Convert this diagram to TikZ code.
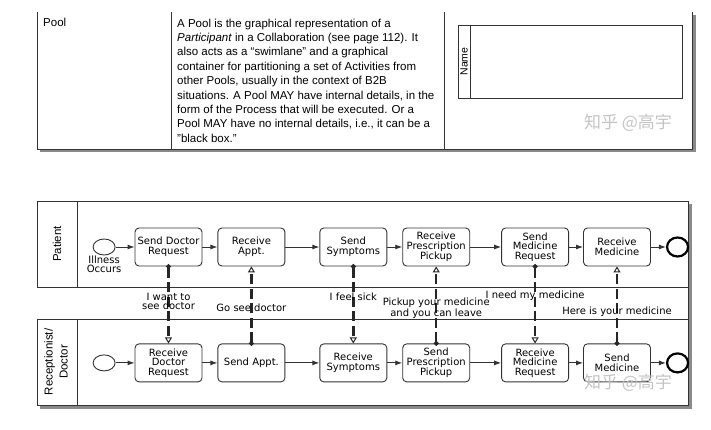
\documentclass[tikz,border=0pt]{standalone}
\usepackage{fontspec}
\setmainfont{Liberation Sans}
\newfontfamily\taskfont{DejaVu Sans}
\newfontfamily\cjkfont{Noto Sans CJK SC}
\usetikzlibrary{arrows.meta,positioning,shapes.geometric}
\definecolor{cline}{HTML}{333333}
\definecolor{cshadow}{HTML}{8A8A8A}
\definecolor{cwmark}{HTML}{C4C4C4}
\tikzset{
  tfont/.style={font=\taskfont\fontsize{10}{9.6}\selectfont},
  task/.style={draw=cline, rounded corners=4pt, minimum width=67pt,
               minimum height=38pt, align=center, inner sep=1pt,
               line width=0.9pt, tfont},
  startev/.style={draw=cline, ellipse, minimum width=22pt, minimum height=16pt,
                  inner sep=0pt, line width=0.9pt},
  endev/.style={draw=black, ellipse, minimum width=21pt, minimum height=19pt,
                inner sep=0pt, line width=2.2pt},
  seq/.style={-{Latex[length=7pt,width=5pt]}, line width=0.9pt, draw=cline},
  msg/.style={{Circle[length=4.5pt]}-{Triangle[open,length=6pt,width=7pt,line width=1pt]},
              line width=2.4pt, dash pattern=on 10pt off 4.5pt, draw=black!85,
              shorten <=-2.2pt},
  msglbl/.style={tfont, align=center, inner sep=0pt},
  frame/.style={draw=cline, line width=0.9pt},
  shade/.style={draw=cshadow, line width=2.5pt},
  lanelbl/.style={rotate=90, align=center, font=\fontsize{11.5}{15}\selectfont},
  wmark/.style={text=cwmark, font=\cjkfont\fontsize{17}{17}\selectfont},
}
\begin{document}
\begin{tikzpicture}[x=1pt, y=-1pt]
  \useasboundingbox (0,0) rectangle (711,430);
  % table row: Pool
  \draw[shade] (40,151) -- (694.5,151) -- (694.5,15);
  \draw[frame] (37,12) -- (37,149) -- (692,149) -- (692,12);
  \draw[frame] (171,12) -- (171,149);
  \draw[frame] (444,12) -- (444,149);
  \node[anchor=base west, inner sep=0pt, font=\fontsize{11.5}{14.4}\selectfont]
    (pooltxt) at (43,27) {Pool};
  \node[anchor=north west, align=left, inner sep=0pt,
        font=\fontsize{11.5}{14.4}\selectfont] (desc) at (177,18.5)
    {A Pool is the graphical representation of a\\
     \textit{Participant} in a Collaboration (see page 112). It\\
     also acts as a “swimlane” and a graphical\\
     container for partitioning a set of Activities from\\
     other Pools, usually in the context of B2B\\
     situations. A Pool MAY have internal details, in the\\
     form of the Process that will be executed. Or a\\
     Pool MAY have no internal details, i.e., it can be a\\
     "black box."};
  \draw[frame] (458,25) rectangle (682,98);
  \draw[frame] (470,25) -- (470,98);
  \node[rotate=90, font=\fontsize{10.5}{10.5}\selectfont] (nm) at (464,61.5) {Name};
  \node[wmark] (w1) at (628,123) {知乎 @高宇};

  % pools
  \draw[shade] (690.5,204) -- (690.5,407.5) -- (40,407.5);
  \draw[frame] (37,201) rectangle (688,287);
  \draw[frame] (77,201) -- (77,287);
  \draw[frame] (37,319) rectangle (688,405);
  \draw[frame] (77,319) -- (77,405);
  \draw[frame] (688,201) -- (688,405);
  \node[lanelbl] (p1) at (57,244) {Patient};
  \node[lanelbl] (p2) at (56,362) {Receptionist/\\Doctor};

  % patient
  \node[task] (t1) at (168.5,247) {Send Doctor\\Request};
  \node[task, right=15pt of t1] (t2) {Receive\\Appt.};
  \node[task, right=34pt of t2] (t3) {Send\\Symptoms};
  \node[task, right=15pt of t3] (t4) {Receive\\Prescription\\Pickup};
  \node[task, right=31pt of t4] (t5) {Send\\Medicine\\Request};
  \node[task, right=14pt of t5] (t6) {Receive\\Medicine};
  \node[startev, left=19pt of t1] (s1) {};
  \node[endev, right=15pt of t6] (e1) {};
  \node[msglbl, below=0pt of s1] (ill) {Illness\\Occurs};

  % receptionist / doctor
  \node[task, below=77pt of t1] (r1) {Receive\\Doctor\\Request};
  \node[task, right=15pt of r1] (r2) {Send Appt.};
  \node[task, right=34pt of r2] (r3) {Receive\\Symptoms};
  \node[task, right=15pt of r3] (r4) {Send\\Prescription\\Pickup};
  \node[task, right=31pt of r4] (r5) {Receive\\Medicine\\Request};
  \node[task, right=14pt of r5] (r6) {Send\\Medicine};
  \node[startev, left=19pt of r1] (s2) {};
  \node[endev, right=15pt of r6] (e2) {};

  \foreach \p/\q in {s1/t1,t1/t2,t2/t3,t3/t4,t4/t5,t5/t6,t6/e1,
                     s2/r1,r1/r2,r2/r3,r3/r4,r4/r5,r5/r6,r6/e2}
    \draw[seq] (\p)--(\q);

  % messages
  \draw[msg] (t1) -- (r1) node[msglbl, pos=.455] (l1) {I want to\\see doctor};
  \draw[msg] (r2) -- (t2) node[msglbl, pos=.46] (l2) {Go see doctor};
  \draw[msg] (t3) -- (r3) node[msglbl, pos=.40] (l3) {I feel sick};
  \draw[msg] (r4) -- (t4) node[msglbl, pos=.46] (l4) {Pickup your medicine\\and you can leave};
  \draw[msg] (t5) -- (r5) node[msglbl, pos=.385] (l5) {I need my medicine};
  \draw[msg] (r6) -- (t6) node[msglbl, pos=.41] (l6) {Here is your medicine};
  \node[wmark] (w2) at (628,383) {知乎 @高宇};
\end{tikzpicture}
\end{document}
